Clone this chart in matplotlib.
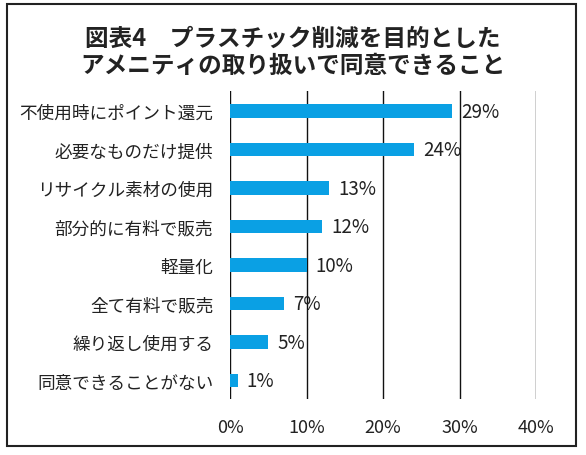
import matplotlib.pyplot as plt
from matplotlib.patches import Rectangle

plt.rcParams['font.family'] = ['Noto Sans CJK JP', 'DejaVu Sans']

# data (top to bottom)
labels = ['不使用時にポイント還元', '必要なものだけ提供', 'リサイクル素材の使用',
          '部分的に有料で販売', '軽量化', '全て有料で販売',
          '繰り返し使用する', '同意できることがない']
values = [29, 24, 13, 12, 10, 7, 5, 1]
ticks = [0, 10, 20, 30, 40]
title = '図表4\u3000プラスチック削減を目的とした\nアメニティの取り扱いで同意できること'

fig = plt.figure(figsize=(5.86, 4.56), dpi=100)
ax = fig.add_axes([0.3925, 0.1228, 0.5222, 0.6754])

pos = list(range(len(labels)))
ax.barh(pos, values, height=0.36, color='#0AA0E4', zorder=3)
for y, v in zip(pos, values):
    ax.text(v + 1.2, y, f'{v}%', va='center', ha='left', fontsize=13.5,
            color='#222222', zorder=4)

ax.set_xlim(0, 40)
ax.set_ylim(7.48, -0.52)
ax.set_xticks(ticks)
ax.set_xticklabels([f'{t}%' for t in ticks], fontsize=13, color='#222222')
ax.set_yticks(pos)
ax.set_yticklabels(labels, fontsize=12.7, color='#222222')
ax.tick_params(length=0)
ax.tick_params(axis='x', pad=14)
ax.tick_params(axis='y', pad=12)
for t in ticks:
    ax.axvline(t, color='#111111', lw=1.0, zorder=1)
for s in ax.spines.values():
    s.set_visible(False)

fig.text(0.5, 0.885, title, ha='center', va='center', fontsize=17,
         fontweight='semibold', linespacing=1.2, color='#222222')

# outer frame
fig.patches.append(Rectangle((7 / 586, 1 - 447 / 456), 569 / 586, 442 / 456,
                             transform=fig.transFigure, fill=False,
                             edgecolor='#222222', lw=1.5))

fig.savefig('out.png', dpi=100)
